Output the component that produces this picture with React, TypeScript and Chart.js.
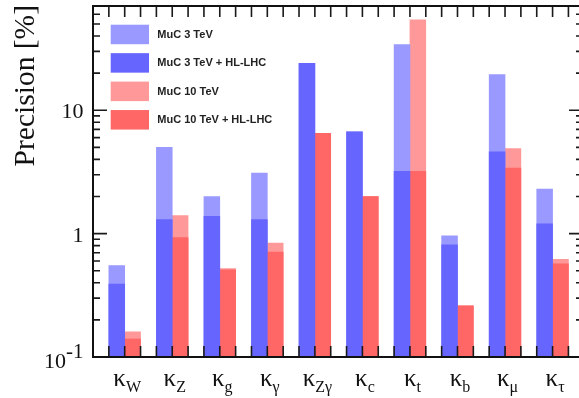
import { useEffect, useRef } from 'react';
import { Chart, registerables } from 'chart.js';

Chart.register(...registerables);

// ---- data ----
const kappaSymbol = 'κ';
const categorySubscripts = ['W', 'Z', 'g', 'γ', 'Zγ', 'c', 't', 'b', 'μ', 'τ'];
const seriesLabels = ['MuC 3 TeV', 'MuC 3 TeV + HL-LHC', 'MuC 10 TeV', 'MuC 10 TeV + HL-LHC'];
const muc3 = [0.55, 5.0, 2.0, 3.1, 24, 6.7, 34, 0.96, 19.5, 2.3];
const muc3HL = [0.39, 1.3, 1.38, 1.3, 24, 6.7, 3.2, 0.81, 4.6, 1.2];
const muc10 = [0.16, 1.4, 0.52, 0.84, 6.5, 2.0, 54, 0.26, 4.9, 0.62];
const muc10HL = [0.14, 0.93, 0.51, 0.71, 6.5, 2.0, 3.2, 0.26, 3.4, 0.57];
const yTickValues = [0.1, 1, 10];
const yTickLabels: [string, string][] = [['10', '-1'], ['1', ''], ['10', '']];
const yDecades = [0.1, 1, 10];
const yTitle = 'Precision [%]';

const Y_MIN = 0.1;
const Y_MAX = 70;
const X_MIN = -2 / 3;
const X_MAX = 9.64;

const colors = ['#9999ff', '#6666ff', '#ff9999', '#ff6666'];

const rootStylePlugin = {
  id: 'rootStyle',
  afterDatasetsDraw(chart: any) {
    const { ctx, chartArea: a } = chart;
    const x = chart.scales.x;
    const y = chart.scales.y;
    ctx.save();
    ctx.strokeStyle = '#1a1a1a';
    ctx.lineWidth = 1.6;
    ctx.beginPath();
    // x tick marks every third of a category
    for (let k = Math.ceil(X_MIN * 3 - 1e-6); k <= Math.floor(X_MAX * 3 + 1e-6); k++) {
      const px = x.getPixelForValue(k / 3);
      ctx.moveTo(px, a.bottom);
      ctx.lineTo(px, a.bottom - 11);
      ctx.moveTo(px, a.top);
      ctx.lineTo(px, a.top + 11);
    }
    // y tick marks (log)
    for (const dec of yDecades) {
      for (let m = 1; m <= 9; m++) {
        const v = m * dec;
        if (v < Y_MIN * 0.999 || v > Y_MAX * 1.001) continue;
        const py = y.getPixelForValue(v);
        const len = m === 1 ? 14 : 7;
        ctx.moveTo(a.left, py);
        ctx.lineTo(a.left + len, py);
        ctx.moveTo(a.right, py);
        ctx.lineTo(a.right - len, py);
      }
    }
    ctx.stroke();
    // frame
    ctx.lineWidth = 2;
    ctx.strokeStyle = '#111';
    ctx.strokeRect(a.left, a.top, a.right - a.left, a.bottom - a.top);

    // y tick labels
    ctx.fillStyle = '#111';
    ctx.textBaseline = 'alphabetic';
    const labelRight = a.left - 9.5;
    yTickValues.forEach((v, i) => {
      const py = y.getPixelForValue(v);
      const [base, exp] = yTickLabels[i];
      if (exp) {
        ctx.font = '21px "Liberation Serif"';
        const we = ctx.measureText(exp).width;
        ctx.textAlign = 'right';
        ctx.fillText(exp, labelRight, py + 0.8);
        ctx.font = '22px "Liberation Serif"';
        ctx.fillText(base, labelRight - we, py + 11);
      } else {
        ctx.font = '22px "Liberation Serif"';
        ctx.textAlign = 'right';
        ctx.fillText(base, labelRight, py + 8);
      }
    });

    // x category labels
    categorySubscripts.forEach((sub, i) => {
      const cx = x.getPixelForValue(i) + 2.5;
      ctx.font = '25px "Liberation Serif"';
      const wk = ctx.measureText(kappaSymbol).width;
      ctx.font = '16px "Liberation Serif"';
      const ws = ctx.measureText(sub).width;
      const start = cx - (wk + ws) / 2;
      ctx.textAlign = 'left';
      ctx.font = '25px "Liberation Serif"';
      ctx.fillText(kappaSymbol, start, a.bottom + 28.5);
      ctx.font = '16px "Liberation Serif"';
      ctx.fillText(sub, start + wk, a.bottom + 34.5);
    });

    // y title
    ctx.save();
    ctx.translate(33.5, a.top - 1);
    ctx.rotate(-Math.PI / 2);
    ctx.font = '29.5px "Liberation Serif"';
    ctx.textAlign = 'right';
    ctx.fillText(yTitle, 0, 0);
    ctx.restore();

    // legend
    chart.data.datasets.forEach((ds: any, i: number) => {
      const top = a.top + 18.7 + i * 28.45;
      ctx.fillStyle = ds.backgroundColor;
      ctx.fillRect(a.left + 17.7, top, 38.3, 19.5);
      ctx.fillStyle = '#222';
      ctx.font = 'bold 11px "Liberation Sans"';
      ctx.textAlign = 'left';
      ctx.textBaseline = 'middle';
      ctx.fillText(ds.label, a.left + 64.3, top + 10.2);
      ctx.textBaseline = 'alphabetic';
    });
    ctx.restore();
  },
};

export default function App() {
  const ref = useRef<HTMLCanvasElement | null>(null);
  useEffect(() => {
    if (!ref.current) return;
    const series = [muc3, muc3HL, muc10, muc10HL];
    const offsets = [-1 / 6, -1 / 6, 1 / 6, 1 / 6];
    const orders = [2, 1, 2, 1];
    const chart = new Chart(ref.current, {
      type: 'bar',
      data: {
        datasets: series.map((vals, s) => ({
          label: seriesLabels[s],
          data: vals.map((v, i) => ({ x: i + offsets[s], y: v })),
          backgroundColor: colors[s],
          borderWidth: 0,
          order: orders[s],
          grouped: false,
          barPercentage: 1,
          categoryPercentage: 1,
        })),
      },
      options: {
        responsive: false,
        animation: false,
        layout: { padding: { left: 93, top: 6, right: 7, bottom: 41 } },
        scales: {
          x: { type: 'linear', min: X_MIN, max: X_MAX, offset: false, display: false },
          y: { type: 'logarithmic', min: Y_MIN, max: Y_MAX, display: false },
        },
        plugins: { legend: { display: false }, tooltip: { enabled: false } },
      },
      plugins: [rootStylePlugin],
    } as any);
    return () => chart.destroy();
  }, []);
  return (
    <div style={{ position: 'fixed', left: 0, top: 0, width: 579, height: 398, overflow: 'hidden', background: '#fff' }}>
      <canvas ref={ref} width={590} height={398} style={{ width: 590, height: 398, display: 'block' }} />
    </div>
  );
}
